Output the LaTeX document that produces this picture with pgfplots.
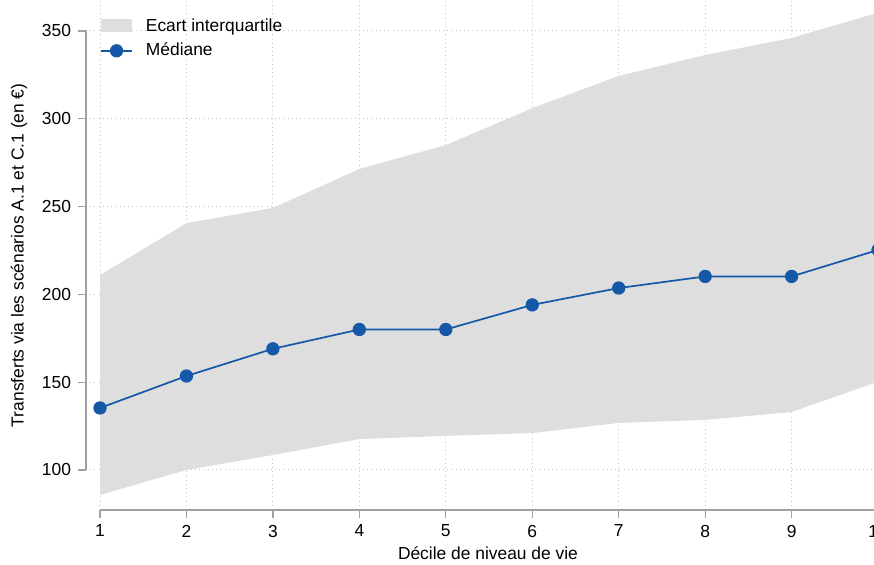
\documentclass[border=0pt]{standalone}
\usepackage{pgfplots}
\pgfplotsset{compat=1.18}
\usepackage{pgfplotstable}
\usepgfplotslibrary{fillbetween}
\usepackage{fontspec}
\setmainfont{Liberation Sans}

\definecolor{bandgray}{RGB}{222,222,222}
\definecolor{medblue}{RGB}{21,88,168}
\definecolor{axisgray}{RGB}{160,160,160}
\definecolor{gridgray}{RGB}{195,195,195}

% decile, 25e centile, mediane, 75e centile
\pgfplotstableread{
d   p25    p50    p75
1   85.8   135.3  211
2   100    153.5  240.5
3   108.5  169    249.2
4   117.6  180    271.4
5   119.4  180    285
6   121    194    306
7   126.8  203.6  324.4
8   128.5  210.2  336.3
9   133    210.2  346
10  150.3  225.3  360.4
}\deciles

\begin{document}
\fontsize{17.4}{20}\selectfont
\begin{tikzpicture}
\begin{axis}[
    x=86.45pt, y=1.756pt,
    xmin=0.838, xmax=10.3,
    ymin=77.2, ymax=372,
    axis x line*=bottom, axis y line*=left,
    axis line style={draw=none},
    xtick={1,...,10}, ytick={100,150,...,350},
    tick align=outside,
    major tick length=8pt,
    tick style={axisgray, line width=1.2pt},
    xticklabel style={font=\fontsize{17.4}{20}\selectfont, yshift=-1pt},
    yticklabel style={font=\fontsize{17.4}{20}\selectfont, xshift=-1pt},
    /pgf/number format/assume math mode=true,
    grid=major,
    grid style={gridgray, line width=1pt, dash pattern=on 1pt off 3.2pt},
    clip=true,
    xlabel={Décile de niveau de vie},
    ylabel={Transferts via les scénarios A.1 et C.1 (en €)},
    every axis x label/.style={at={(rel axis cs:0.4914,0)}, yshift=-43pt, anchor=center, font=\fontsize{17.4}{20}\selectfont},
    every axis y label/.style={at={(rel axis cs:0,0.492)}, xshift=-67pt, rotate=90, anchor=center, font=\fontsize{17.4}{20}\selectfont},
    legend style={at={(axis description cs:0.0147,0.9568)}, anchor=north west,
        draw=none, fill=none, font=\fontsize{17.4}{20}\selectfont,
        row sep=5pt, inner sep=2pt,
        /tikz/every odd column/.append style={column sep=11pt}},
    legend cell align=left,
]
\addplot[name path=lo, draw=none, forget plot] table[x=d, y=p25] {\deciles};
\addplot[name path=hi, draw=none, forget plot] table[x=d, y=p75] {\deciles};
\addplot[bandgray, draw=none,
    legend image code/.code={\fill[bandgray] (0pt,-6pt) rectangle (31pt,7pt);}]
    fill between[of=hi and lo];
\addlegendentry{Ecart interquartile}
\addplot[medblue, line width=1.7pt, mark=*, mark size=5.8pt,
    mark options={fill=medblue, draw=medblue},
    legend image code/.code={\draw[medblue, line width=1.7pt] (0pt,0pt) -- (31pt,0pt);
        \fill[medblue] (15.5pt,0pt) circle (5.8pt);}]
    table[x=d, y=p50] {\deciles};
\addlegendentry{Médiane}
\coordinate (O) at (axis cs:0.838,77.2);
\end{axis}
\draw[axisgray, line width=1.2pt] ([shift={(14pt,0pt)}]O) -- ([shift={(900pt,0pt)}]O);
\draw[axisgray, line width=1.2pt] ([shift={(0pt,40pt)}]O) -- ([shift={(0pt,479pt)}]O);
\pgfresetboundingbox
\path[use as bounding box] ([shift={(-86pt,-54pt)}]O) rectangle ([shift={(788pt,510pt)}]O);
\end{tikzpicture}
\end{document}
